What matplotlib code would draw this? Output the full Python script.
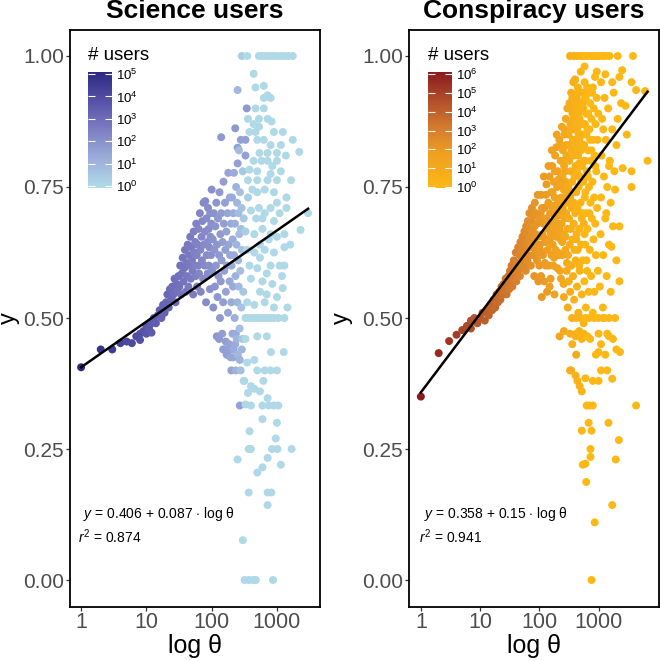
import math
import matplotlib.pyplot as plt
from matplotlib.colors import LinearSegmentedColormap, LogNorm
from matplotlib.cm import ScalarMappable

plt.rcParams['font.family'] = ['Liberation Sans', 'DejaVu Sans']
plt.rcParams['mathtext.fontset'] = 'custom'
plt.rcParams['mathtext.rm'] = 'Liberation Sans'
plt.rcParams['mathtext.it'] = 'Liberation Sans:italic'

TITLES = ['Science users', 'Conspiracy users']
FIT_COEFS = [(0.406, 0.087), (0.358, 0.15)]
FIT_R2 = [0.874, 0.941]
Y_TICKS = [0.0, 0.25, 0.5, 0.75, 1.0]
X_TICKS = [1, 10, 100, 1000]
SCI_USER_TICKS = [1, 10, 100, 1e3, 1e4, 1e5]
CON_USER_TICKS = [1, 10, 100, 1e3, 1e4, 1e5, 1e6]

# (theta, y, users)
SCI_POINTS = [
    (1, .406, 120000), (2, .44, 50000), (3, .44, 30000), (4, .452, 20000), (5, .455, 15000),
    (6, .452, 12000), (7, .465, 9000), (8, .47, 8000), (8, .458, 7000), (9, .475, 6000),
    (10, .47, 5000), (10, .485, 5000), (11, .48, 4000), (12, .49, 3500), (12, .472, 3500),
    (13, .50, 3000), (14, .49, 3000), (15, .505, 2500), (16, .515, 2500), (17, .50, 2000),
    (18, .525, 2000), (19, .51, 2000), (20, .53, 1500), (21, .545, 1500), (22, .52, 1500),
    (23, .555, 1200), (24, .535, 1200), (25, .56, 1000), (26, .545, 1000), (27, .575, 1000),
    (28, .53, 900), (29, .565, 900), (30, .55, 800),
    (31, .58, 800), (32, .56, 800), (33, .60, 700), (34, .545, 700), (35, .585, 700),
    (36, .615, 600), (37, .57, 600), (38, .595, 600), (39, .63, 500), (40, .55, 500),
    (41, .605, 500), (42, .58, 500), (43, .64, 450), (44, .56, 450), (45, .62, 450),
    (46, .60, 400), (47, .655, 400), (48, .575, 400), (49, .635, 400), (50, .61, 350),
    (51, .59, 350), (52, .545, 350), (53, .665, 300), (54, .625, 300), (55, .60, 300),
    (56, .645, 300), (57, .58, 300), (58, .68, 250), (59, .62, 250), (60, .56, 250),
    (61, .64, 250), (62, .60, 250), (63, .67, 220), (64, .585, 220), (66, .70, 200),
    (67, .63, 200), (68, .55, 200), (70, .655, 180), (71, .61, 180), (72, .685, 180),
    (74, .575, 160), (75, .72, 160), (76, .64, 160), (78, .60, 150), (79, .665, 150),
    (80, .723, 150), (82, .53, 140), (83, .69, 140), (84, .62, 140), (86, .645, 130),
    (87, .585, 130), (88, .71, 130), (90, .67, 120), (91, .60, 120), (92, .635, 120),
    (94, .555, 110), (95, .70, 110), (96, .655, 110), (98, .62, 100), (99, .68, 100),
    (100, .745, 100), (102, .59, 100), (104, .65, 90), (106, .52, 90), (108, .70, 90),
    (110, .63, 80), (112, .56, 80), (114, .675, 80), (116, .60, 75), (118, .72, 75),
    (120, .465, 70), (121, .64, 70), (123, .54, 70), (125, .69, 65), (127, .58, 65),
    (130, .62, 60), (130, .46, 60), (132, .74, 60), (134, .50, 60), (136, .66, 55),
    (138, .57, 55), (140, .845, 60), (140, .70, 50), (142, .61, 50), (145, .47, 50),
    (147, .645, 45), (150, .53, 45), (150, .44, 50), (152, .76, 45), (154, .68, 45),
    (156, .59, 40), (158, .44, 40), (160, .72, 40), (162, .63, 40), (165, .55, 35),
    (165, .455, 45), (168, .665, 35), (170, .43, 35), (172, .60, 35), (175, .70, 30),
    (175, .43, 40), (178, .51, 30), (180, .777, 30), (182, .64, 30), (185, .45, 30),
    (188, .57, 25), (190, .73, 25), (190, .44, 35), (192, .62, 25), (195, .425, 25),
    (198, .68, 25), (200, .53, 20), (200, .40, 30), (202, .60, 20), (205, .73, 20),
    (208, .47, 20), (210, .65, 20), (212, .56, 20), (215, .70, 18), (215, .425, 25),
    (218, .44, 18), (220, .62, 18), (220, .777, 18), (225, .50, 15), (228, .68, 15),
    (230, .862, 60), (230, .45, 20), (232, .58, 12), (235, .40, 12), (235, .47, 20),
    (237, .75, 12), (240, .64, 10), (242, .46, 10), (245, .72, 10), (248, .53, 10),
    (250, .935, 8), (250, .795, 40), (250, .825, 40), (252, .43, 8), (255, .61, 8),
    (258, .70, 7), (260, .56, 7), (262, .82, 7), (265, .66, 6), (268, .48, 6),
    (270, .333, 40), (270, .42, 12), (272, .74, 5), (275, .59, 5), (278, .40, 5),
    (280, .84, 40), (282, .67, 5), (285, .52, 4), (288, .71, 4), (290, .63, 4),
    (290, .44, 10), (295, .46, 3), (300, .78, 3), (305, .55, 3), (310, .69, 3),
    (315, .38, 2), (330, .84, 40), (330, .81, 40), (345, .90, 60),
    (290, 1, 2), (350, 1, 1), (530, 1, 1), (600, 1, 1), (680, 1, 1), (770, 1, 1),
    (880, 1, 1), (1000, 1, 1), (1150, 1, 1), (1300, 1, 1), (1500, 1, 1), (1750, 1, 1),
    (440, .966, 1), (470, .94, 1), (630, .943, 1), (630, .92, 1), (720, .925, 1),
    (800, .92, 1), (470, .90, 1), (630, .90, 1), (360, .88, 1), (530, .88, 1),
    (720, .88, 1), (830, .875, 1), (440, .87, 1), (530, .865, 1), (380, .855, 1),
    (470, .855, 1), (900, .855, 1), (1230, .855, 1), (500, .84, 1), (630, .84, 1),
    (800, .83, 1), (1150, .83, 1), (1750, .84, 1), (540, .815, 1), (720, .815, 1),
    (1000, .815, 1), (2200, .817, 1), (440, .80, 1), (580, .80, 1), (720, .80, 1),
    (1000, .80, 1), (1370, .81, 1), (380, .783, 1), (500, .78, 1), (800, .775, 1),
    (1150, .78, 1), (360, .763, 1), (500, .763, 1), (720, .763, 1), (1000, .763, 1),
    (1650, .763, 1), (420, .745, 1), (500, .74, 1), (650, .745, 1), (900, .74, 1),
    (1400, .73, 1), (360, .73, 2), (400, .705, 1), (530, .71, 1), (650, .70, 1),
    (800, .71, 1), (1100, .70, 1), (1400, .71, 1), (3000, .70, 1), (2300, .668, 1),
    (330, .665, 2), (450, .66, 1), (600, .67, 1), (800, .66, 1), (1000, .655, 1),
    (1300, .66, 1), (1600, .64, 1), (350, .63, 1), (450, .625, 1), (650, .63, 1),
    (900, .625, 1), (1300, .635, 1), (380, .60, 1), (500, .595, 1), (800, .60, 1),
    (1100, .60, 1), (1300, .60, 1), (400, .575, 1), (600, .57, 1), (850, .565, 1),
    (1230, .557, 1), (350, .53, 1), (450, .525, 1), (650, .53, 1), (900, .52, 1),
    (1450, .52, 1), (550, .55, 1), (700, .545, 1), (1000, .54, 1), (600, .69, 1),
    (900, .685, 1), (750, .65, 1), (550, .615, 1), (700, .585, 1), (1200, .58, 1),
    (480, .69, 1), (550, .64, 1), (1000, .72, 1), (850, .79, 1),
    (330, .5, 1), (370, .5, 1), (420, .5, 1), (480, .5, 1), (550, .5, 1), (620, .5, 1),
    (700, .5, 1), (800, .5, 1), (900, .5, 1), (1050, .5, 1), (1300, .5, 1),
    (330, .46, 1), (500, .465, 1), (700, .465, 1), (810, .435, 1), (1270, .435, 1),
    (350, .415, 1), (450, .42, 1), (500, .40, 1), (650, .40, 1), (800, .40, 1),
    (1000, .40, 1), (310, .38, 1), (400, .37, 1), (450, .365, 1), (550, .36, 1),
    (620, .38, 1), (360, .357, 1), (330, .335, 1), (400, .333, 1), (600, .333, 1),
    (750, .333, 1), (900, .333, 1), (1050, .333, 1), (720, .347, 1), (600, .307, 1),
    (1000, .30, 1), (380, .284, 1), (960, .27, 1), (370, .25, 1), (400, .25, 1),
    (840, .25, 1), (1020, .25, 1), (1680, .25, 1), (250, .23, 1), (720, .233, 1),
    (600, .215, 1), (500, .205, 1), (1150, .22, 1), (370, .167, 1), (720, .167, 1),
    (820, .167, 1), (720, .143, 1), (300, .076, 1), (320, 0, 1), (370, 0, 1),
    (430, 0, 1), (475, 0, 1), (870, 0, 1),
]

CON_POINTS = [
    (1, .35, 1200000), (2, .433, 400000), (3, .456, 200000), (4, .468, 120000),
    (5, .477, 80000), (6, .485, 60000), (7, .495, 40000), (7, .48, 40000), (8, .50, 30000),
    (9, .49, 25000), (10, .50, 20000), (11, .51, 15000), (12, .495, 12000), (13, .515, 10000),
    (14, .505, 9000), (15, .525, 8000), (16, .515, 7000), (17, .535, 6000), (18, .52, 5500),
    (19, .545, 5000), (20, .53, 4500), (21, .55, 4000), (22, .535, 3500), (23, .56, 3200),
    (24, .545, 3000), (25, .565, 2800), (26, .55, 2500), (27, .575, 2300), (28, .545, 2200),
    (29, .565, 2000), (30, .58, 1800),
    (31, .555, 1500), (32, .59, 1500), (33, .57, 1300), (34, .60, 1200), (35, .56, 1200),
    (36, .585, 1100), (37, .61, 1000), (38, .575, 1000), (39, .595, 900), (40, .625, 900),
    (41, .57, 800), (42, .605, 800), (43, .585, 750), (44, .635, 700), (45, .60, 700),
    (46, .62, 650), (47, .58, 600), (48, .645, 600), (49, .605, 550), (50, .63, 500),
    (51, .595, 500), (52, .655, 480), (53, .615, 450), (54, .64, 450), (55, .60, 420),
    (56, .665, 400), (57, .625, 400), (58, .645, 380), (59, .59, 350), (60, .675, 350),
    (61, .635, 330), (62, .66, 320), (63, .61, 300), (64, .685, 300), (65, .645, 280),
    (66, .62, 270), (67, .67, 260), (68, .70, 250), (69, .635, 240), (70, .655, 230),
    (72, .60, 220), (73, .685, 210), (74, .64, 200), (75, .71, 200), (76, .665, 190),
    (78, .62, 180), (79, .695, 180), (80, .65, 170), (82, .58, 160), (83, .675, 160),
    (84, .72, 150), (86, .63, 150), (87, .66, 140), (88, .70, 140), (90, .64, 130),
    (91, .61, 130), (92, .68, 125), (94, .735, 120), (95, .655, 120), (96, .57, 115),
    (98, .62, 110), (99, .69, 110),
    (100, .60, 120), (102, .64, 120), (105, .70, 120), (108, .735, 110), (110, .54, 110),
    (112, .66, 100), (115, .62, 100), (118, .68, 100), (120, .57, 90), (122, .71, 90),
    (125, .645, 90), (128, .60, 80), (130, .69, 80), (132, .755, 80), (135, .55, 80),
    (138, .63, 70), (140, .67, 70), (142, .72, 70), (145, .60, 70), (148, .77, 60),
    (150, .65, 60), (152, .70, 60), (155, .575, 60), (158, .74, 50), (160, .62, 50),
    (162, .68, 50), (165, .79, 50), (168, .64, 50), (170, .71, 40), (172, .60, 40),
    (175, .76, 40), (178, .67, 40), (180, .545, 40), (182, .73, 40), (185, .81, 35),
    (188, .63, 35), (190, .70, 35), (195, .826, 30), (198, .66, 30), (200, .75, 30),
    (202, .595, 30), (205, .78, 30), (208, .68, 30), (210, .72, 25), (215, .62, 25),
    (218, .84, 25), (220, .70, 25), (225, .76, 25), (228, .65, 20), (230, .80, 20),
    (232, .575, 20), (235, .73, 20), (238, .68, 20), (240, .865, 20), (242, .62, 20),
    (245, .77, 15), (248, .71, 15), (250, .82, 15), (255, .66, 15), (258, .745, 15),
    (260, .54, 15), (262, .79, 15), (265, .69, 15), (268, .85, 12), (270, .72, 12),
    (275, .63, 12), (278, .76, 12), (280, .88, 12), (285, .70, 10), (288, .81, 10),
    (290, .59, 10), (295, .74, 10), (298, .67, 10),
    (103, .63, 110), (107, .58, 100), (111, .71, 95), (116, .655, 90), (119, .77, 85),
    (124, .605, 80), (129, .735, 75), (133, .68, 70), (137, .645, 65), (143, .79, 60),
    (149, .56, 55), (153, .715, 50), (157, .66, 50), (163, .82, 45), (167, .74, 45),
    (173, .685, 40), (177, .615, 40), (183, .78, 35), (187, .715, 35), (193, .655, 30),
    (197, .85, 30), (203, .695, 28), (207, .625, 28), (213, .765, 25), (217, .67, 24),
    (223, .59, 22), (227, .83, 22), (233, .71, 20), (237, .755, 20), (243, .645, 18),
    (247, .80, 17), (253, .695, 16), (257, .565, 15), (263, .73, 14), (267, .86, 13),
    (273, .78, 12), (277, .655, 12), (283, .83, 11), (287, .72, 10), (293, .605, 10),
    (297, .90, 10),
    (302, .52, 8), (305, .62, 8), (308, .75, 8), (311, .85, 7), (314, .57, 7), (317, .69, 7),
    (320, .80, 7), (323, .91, 6), (326, .64, 6), (329, .73, 6), (332, .55, 6), (335, .87, 6),
    (338, .78, 5), (341, .67, 5), (344, .93, 5), (347, .60, 5), (350, .82, 5), (353, .71, 5),
    (356, .50, 4), (359, .76, 4), (362, .89, 4), (365, .65, 4), (368, .84, 4), (371, .58, 4),
    (374, .95, 4), (377, .74, 4), (380, .68, 4), (383, .81, 3), (386, .535, 3), (389, .90, 3),
    (392, .63, 3), (395, .77, 3), (398, .86, 3),
    (402, .955, 3), (405, .70, 3), (408, .79, 3), (411, .61, 3), (414, .88, 3), (417, .47, 3),
    (420, .74, 3), (423, .83, 3), (426, .66, 3), (429, .92, 3), (432, .56, 2), (435, .78, 2),
    (438, .86, 2), (441, .71, 2), (444, .63, 2), (447, .94, 2), (450, .81, 2), (455, .51, 2),
    (460, .75, 2), (465, .89, 2), (470, .67, 2), (475, .84, 2), (480, .59, 2), (485, .77, 2),
    (490, .91, 2), (495, .72, 2), (500, .97, 2), (505, .82, 2), (510, .64, 2), (515, .87, 2),
    (520, .545, 2), (525, .79, 2), (530, .93, 2), (535, .70, 2), (540, .85, 2), (545, .61, 2),
    (550, .76, 2), (555, .90, 2), (560, .49, 2), (565, .68, 2), (570, .83, 2), (575, .57, 1),
    (580, .95, 1), (585, .73, 1), (590, .87, 1), (595, .64, 1), (600, .80, 1), (605, .92, 1),
    (610, .52, 1), (615, .70, 1), (620, .85, 1), (625, .61, 1), (630, .78, 1), (640, .94, 1),
    (650, .67, 1), (660, .82, 1), (670, .89, 1), (680, .55, 1), (690, .75, 1), (700, .86, 1),
    (710, .63, 1), (720, .91, 1), (730, .72, 1), (740, .80, 1),
    (750, .58, 1), (760, .88, 1), (770, .69, 1), (780, .93, 1), (790, .76, 1), (800, .51, 1),
    (810, .84, 1), (820, .65, 1), (830, .90, 1), (840, .73, 1), (850, .55, 1), (860, .81, 1),
    (870, .96, 1), (880, .68, 1), (890, .87, 1), (900, .62, 1), (915, .78, 1), (930, .92, 1),
    (945, .71, 1), (960, .84, 1), (975, .59, 1), (990, .89, 1),
    (315, .83, 6), (330, .90, 6), (345, .86, 5), (360, .92, 4), (375, .88, 4), (390, .84, 3),
    (410, .91, 3), (425, .87, 3), (440, .93, 2), (460, .85, 2), (480, .88, 2), (500, .90, 2),
    (520, .83, 2), (540, .91, 2), (560, .87, 2), (590, .92, 1), (620, .89, 1), (650, .86, 1),
    (700, .93, 1), (760, .82, 1), (800, .94, 1), (880, .79, 1), (430, .815, 3), (470, .795, 2),
    (510, .76, 2), (560, .80, 2), (600, .74, 1), (660, .77, 1), (720, .84, 1), (380, .72, 4),
    (420, .65, 3), (470, .60, 2), (520, .69, 2), (580, .66, 1), (640, .59, 1), (700, .70, 1),
    (330, 1, 5), (380, 1, 3), (430, 1, 3), (480, 1, 2), (540, 1, 2), (600, 1, 1), (670, 1, 1),
    (750, 1, 1), (840, 1, 1), (940, 1, 1), (1050, 1, 1), (1180, 1, 1), (1320, 1, 1),
    (1530, 1, 1), (2100, 1, 1), (3800, 1, 1),
    (580, .98, 1), (930, .97, 1), (400, .955, 3), (2500, .973, 1), (2250, .96, 1),
    (3600, .95, 1), (4300, .935, 1), (6100, .933, 1), (1300, .965, 1), (1700, .95, 1),
    (1000, .47, 1), (1050, .56, 1), (1080, .66, 1), (1100, .73, 1), (1120, .81, 1),
    (1150, .88, 1), (1180, .52, 1), (1200, .62, 1), (1230, .77, 1), (1260, .92, 1),
    (1300, .69, 1), (1330, .84, 1), (1370, .58, 1), (1400, .75, 1), (1450, .90, 1),
    (1500, .64, 1), (1550, .80, 1), (1600, .72, 1), (1650, .636, 1), (1700, .86, 1),
    (1750, .675, 1), (1800, .93, 1), (1850, .78, 1), (1900, .745, 1), (2000, .83, 1),
    (2100, .88, 1), (2250, .675, 1), (2250, .57, 1), (2400, .91, 1), (2550, .786, 1),
    (2850, .905, 1), (3000, .85, 1), (3600, .78, 1), (3600, .75, 1), (6700, .80, 1),
    (1100, .95, 1), (1250, .50, 1), (1400, .47, 1), (1600, .55, 1), (2000, .61, 1),
    (1200, .86, 1), (1350, .70, 1), (1500, .79, 1),
    (420, .5, 3), (500, .5, 2), (600, .5, 1), (700, .5, 1), (850, .5, 1), (1000, .5, 1),
    (1200, .5, 1), (1500, .5, 1), (1900, .5, 1),
    (220, .465, 20), (260, .475, 15), (330, .47, 5), (360, .45, 4), (420, .43, 12),
    (410, .465, 3), (470, .475, 2), (520, .46, 2), (560, .47, 2), (650, .465, 1),
    (720, .46, 1), (900, .43, 1), (1000, .435, 1), (1100, .45, 1), (1300, .43, 1),
    (1500, .465, 1), (1750, .46, 1), (2000, .44, 1), (2300, .435, 1), (330, .40, 5),
    (345, .40, 5), (410, .39, 3), (440, .38, 2), (480, .37, 2), (520, .36, 2), (600, .385, 1),
    (800, .38, 1), (1000, .38, 1), (1100, .40, 1), (1400, .40, 1), (1700, .384, 1),
    (630, .333, 1), (700, .333, 1), (800, .333, 1), (4300, .333, 1), (680, .30, 1),
    (1470, .30, 1), (520, .285, 1), (760, .285, 1), (2200, .267, 1), (730, .25, 1),
    (730, .235, 1), (1950, .23, 1), (540, .22, 1), (600, .222, 1), (620, .187, 1),
    (1700, .143, 1), (860, .11, 1), (760, 0, 1),
]

SCI_CMAP = LinearSegmentedColormap.from_list(
    'sci', [(0, '#B0DCE8'), (0.25, '#9CAEDB'), (0.5, '#7E7EC2'), (0.75, '#5652A8'), (1, '#2A2A80')])
CON_CMAP = LinearSegmentedColormap.from_list(
    'con', [(0, '#FDB815'), (0.3, '#EE9F22'), (0.5, '#D67E2E'), (0.75, '#B2502B'), (1, '#8A1A1E')])

W, H = 660, 661
fig = plt.figure(figsize=(W / 100, H / 100), dpi=100)

panels = [
    dict(points=SCI_POINTS, cmap=SCI_CMAP, norm=LogNorm(0.81, 1.23e5), ticks=SCI_USER_TICKS,
         left=70, xlim=(10 ** -0.17, 10 ** 3.66), cbar_x=88, ylab_x=0),
    dict(points=CON_POINTS, cmap=CON_CMAP, norm=LogNorm(0.9, 1.26e6), ticks=CON_USER_TICKS,
         left=409, xlim=(10 ** -0.2, 10 ** 4.02), cbar_x=428, ylab_x=333),
]

for i, p in enumerate(panels):
    ax = fig.add_axes([p['left'] / W, 54 / H, 250 / W, 577 / H])
    theta = [pt[0] for pt in p['points']]
    yv = [pt[1] for pt in p['points']]
    users = [pt[2] for pt in p['points']]
    ax.scatter(theta, yv, c=users, cmap=p['cmap'], norm=p['norm'], s=33, linewidths=0, zorder=2)

    # lm fit line over the data range
    a, b = FIT_COEFS[i]
    xs = [min(theta), max(theta)]
    ax.plot(xs, [a + b * math.log10(x) for x in xs], color='black', lw=1.8, zorder=3)

    ax.set_xscale('log')
    ax.set_xlim(*p['xlim'])
    ax.set_ylim(-0.0515, 1.0496)
    ax.set_xticks(X_TICKS)
    ax.set_xticklabels([str(t) for t in X_TICKS])
    ax.minorticks_off()
    ax.set_yticks(Y_TICKS)
    ax.set_yticklabels(['%.2f' % t for t in Y_TICKS])
    ax.tick_params(length=3.2, width=0.9, color='#333333', labelcolor='#4D4D4D',
                   labelsize=15.5, pad=1.5)
    ax.tick_params(axis='y', labelsize=15, pad=1.2)
    ax.tick_params(axis='x', pad=0.5)
    for sp in ax.spines.values():
        sp.set_linewidth(1.3)

    ax.text(0.052 if i == 0 else 0.06, 0.161,
            r'$y$ = %s + %s $\cdot$ log θ' % (('%.3f' % a), ('%.3f' % b).rstrip('0')),
            transform=ax.transAxes, fontsize=10, va='center', ha='left')
    ax.text(0.032 if i == 0 else 0.04, 0.121, r'$r^{2}$ = %.3f' % FIT_R2[i],
            transform=ax.transAxes, fontsize=10, va='center', ha='left')

    cx = fig.add_axes([p['cbar_x'] / W, (H - 188) / H, 24 / W, 116 / H])
    cb = fig.colorbar(ScalarMappable(norm=p['norm'], cmap=p['cmap']), cax=cx)
    cb.outline.set_visible(False)
    cb.set_ticks(p['ticks'])
    cb.set_ticklabels([r'$10^{%d}$' % k for k in range(len(p['ticks']))])
    cb.minorticks_off()
    cx.tick_params(axis='y', direction='in', length=5, width=0.8, color='white',
                   left=True, right=True, labelleft=False, labelright=True,
                   labelsize=9.5, pad=3)
    fig.text(p['cbar_x'] / W, (H - 55) / H, '# users', fontsize=13.5, ha='left', va='center')

    cxc = (p['left'] + 125) / W
    fig.text(cxc, (H - 11) / H, TITLES[i], fontsize=19, fontweight='bold',
             ha='center', va='center')
    fig.text(cxc, (H - 653) / H, 'log θ', fontsize=18, ha='center', va='baseline')
    fig.text(p['ylab_x'] / W, (H - 318) / H, r'$\mathrm{y}$', fontsize=17, rotation=90,
             ha='left', va='center')

fig.savefig('out.png', dpi=100)
